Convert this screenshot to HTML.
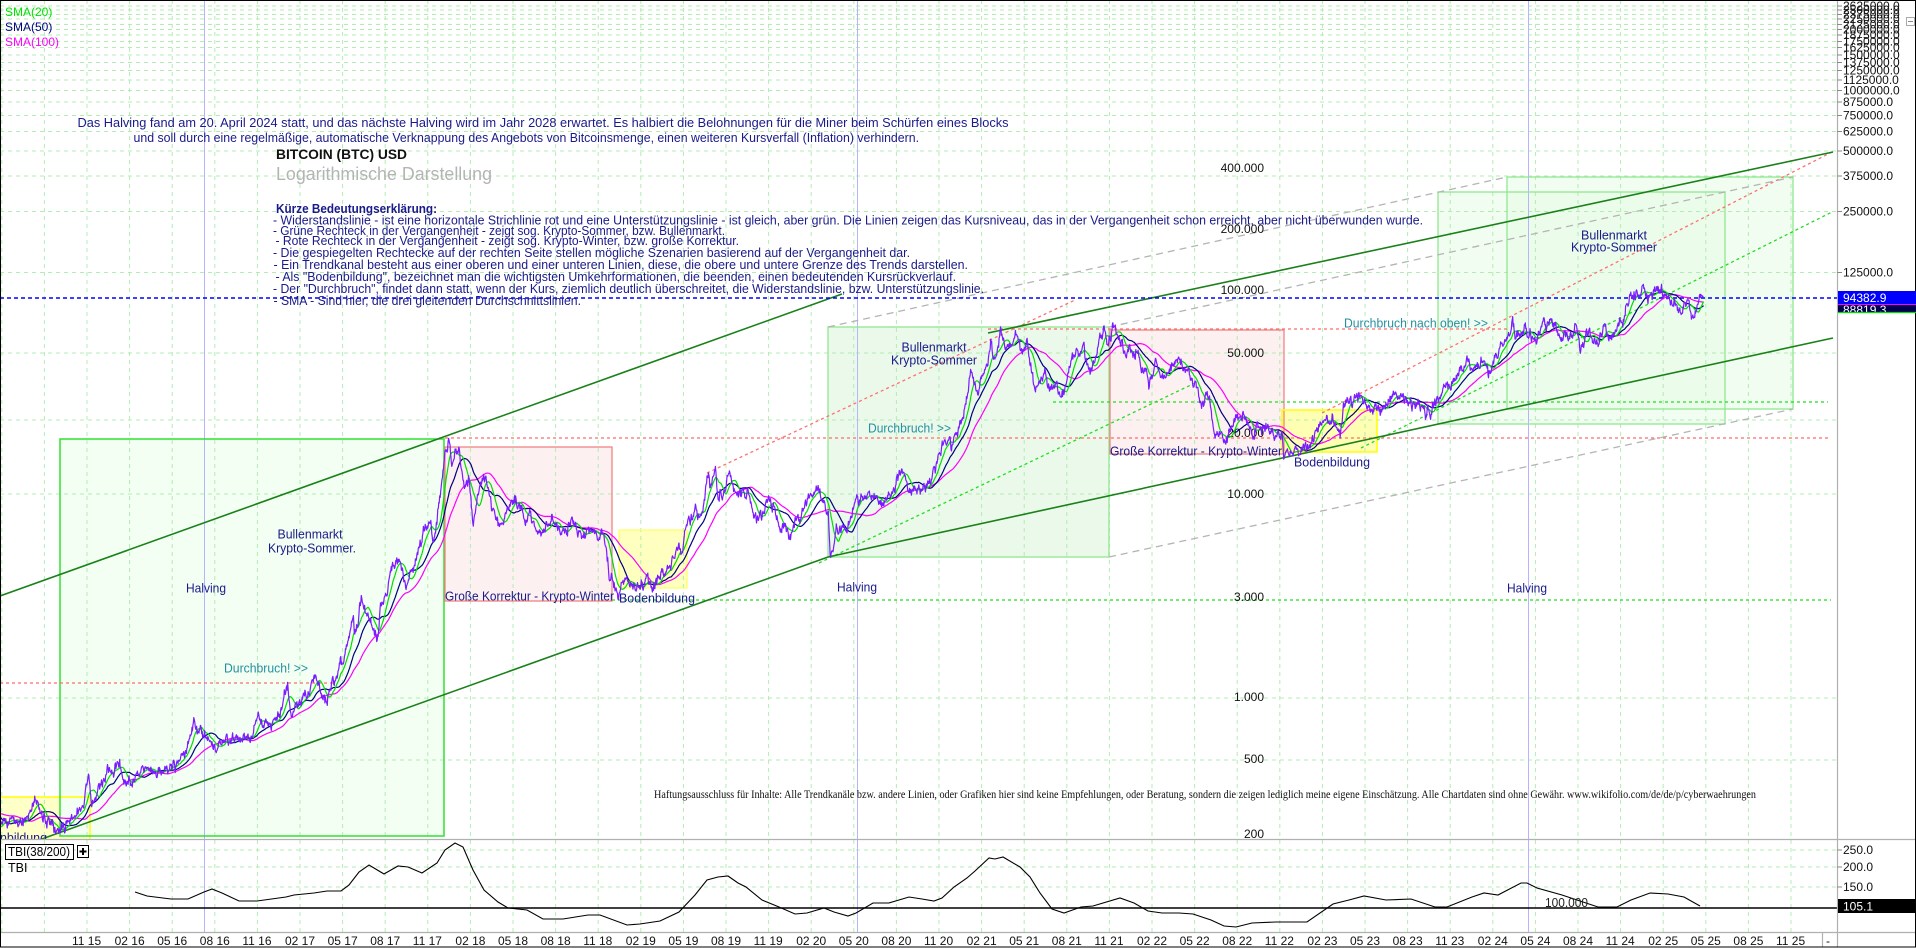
<!DOCTYPE html>
<html><head><meta charset="utf-8">
<style>
html,body{margin:0;padding:0;background:#fff;overflow:hidden;}
svg{display:block;font-family:"Liberation Sans",Arial,sans-serif;}
.nv{fill:#1a1a8a;font-size:13px;}
.tl{fill:#25909f;font-size:13px;}
.ax{fill:#111;font-size:12px;}
.lg{fill:#1a1a8a;font-size:12.5px;}
</style></head>
<body>
<svg width="1916" height="948" viewBox="0 0 1916 948" xmlns="http://www.w3.org/2000/svg">
<defs>
<clipPath id="cm"><rect x="0" y="0" width="1837" height="839"/></clipPath>
<clipPath id="ct"><rect x="0" y="839" width="1837" height="93"/></clipPath>
</defs>
<rect x="0" y="0" width="1916" height="948" fill="#fff"/>

<g clip-path="url(#cm)">
<!-- box fills -->
<rect x="-5" y="797" width="95" height="45" fill="#ffffc8"/>
<rect x="60" y="439" width="384" height="397" fill="#f3fff3"/>
<rect x="445" y="447" width="167" height="154" fill="#fdf0f0"/>
<rect x="619" y="530" width="68" height="58" fill="#ffffc0"/>
<rect x="828" y="327" width="281" height="230" fill="#ebf9eb"/>
<rect x="1110" y="330" width="174" height="124" fill="#fdf0f0"/>
<rect x="1282" y="410" width="95" height="42" fill="#ffffb4"/>
<rect x="1438" y="192" width="287" height="232" fill="#e8fbe8" fill-opacity="0.6"/>
<rect x="1507" y="177" width="286" height="232" fill="#e8fbe8" fill-opacity="0.6"/>
</g>

<!-- grid -->
<g stroke="#b2ecb2" stroke-width="1" stroke-dasharray="4 4" fill="none">
<path d="M1.8 0V932M44.4 0V932M87 0V932M129.6 0V932M172.2 0V932M214.8 0V932M257.4 0V932M300 0V932M342.6 0V932M385.2 0V932M427.8 0V932M470.4 0V932M513 0V932M555.6 0V932M598.2 0V932M640.8 0V932M683.4 0V932M726 0V932M768.6 0V932M811.2 0V932M853.8 0V932M896.4 0V932M939 0V932M981.6 0V932M1024.2 0V932M1066.8 0V932M1109.4 0V932M1152 0V932M1194.6 0V932M1237.2 0V932M1279.8 0V932M1322.4 0V932M1365 0V932M1407.6 0V932M1450.2 0V932M1492.8 0V932M1535.4 0V932M1578 0V932M1620.6 0V932M1663.2 0V932M1705.8 0V932M1748.4 0V932M1791 0V932"/>
<path d="M0 6H1837M0 10H1837M0 14.5H1837M0 19H1837M0 24.5H1837M0 29.5H1837M0 35H1837M0 41.5H1837M0 47.5H1837M0 55H1837M0 62.5H1837M0 70.5H1837M0 80H1837M0 90.5H1837M0 102H1837M0 115.5H1837M0 131.5H1837M0 151H1837M0 176H1837M0 211.5H1837M0 272.5H1837M0 353H1837M0 420H1837M0 494H1837M0 698H1837M0 760H1837M0 850H1837M0 867H1837M0 887H1837"/>
</g>

<!-- halving lines -->
<g stroke="#b4b4ff" stroke-width="1">
<line x1="204.5" y1="0" x2="204.5" y2="932"/>
<line x1="857.5" y1="0" x2="857.5" y2="932"/>
<line x1="1528.5" y1="0" x2="1528.5" y2="932"/>
</g>

<g clip-path="url(#cm)">
<!-- box borders -->
<rect x="-5" y="797" width="95" height="45" fill="none" stroke="#ffff00" stroke-width="1.5"/>
<rect x="60" y="439" width="384" height="397" fill="none" stroke="#2fe02f" stroke-width="1.5"/>
<rect x="445" y="447" width="167" height="154" fill="none" stroke="#f08484" stroke-width="1.3"/>
<rect x="619" y="530" width="68" height="58" fill="none" stroke="#ffff60" stroke-width="1.2"/>
<rect x="828" y="327" width="281" height="230" fill="none" stroke="#90e890" stroke-width="1.3"/>
<rect x="1110" y="330" width="174" height="124" fill="none" stroke="#f08484" stroke-width="1.3"/>
<rect x="1282" y="410" width="95" height="42" fill="none" stroke="#ffff00" stroke-width="1.5"/>
<rect x="1438" y="192" width="287" height="232" fill="none" stroke="#90e890" stroke-width="1.3"/>
<rect x="1507" y="177" width="286" height="232" fill="none" stroke="#90e890" stroke-width="1.3"/>

<!-- horizontal support / resistance -->
<g stroke-width="1.3" stroke-dasharray="3 3" fill="none">
<line x1="0" y1="683" x2="335" y2="683" stroke="#ff6a6a"/>
<line x1="439" y1="438" x2="1831" y2="438" stroke="#ff6a6a"/>
<line x1="988" y1="329" x2="1507" y2="329" stroke="#ff6a6a"/>
<line x1="1053" y1="402" x2="1828" y2="402" stroke="#22dd22"/>
<line x1="612" y1="600" x2="1831" y2="600" stroke="#22dd22"/>
<!-- diagonals -->
<line x1="707" y1="473" x2="1075" y2="300" stroke="#ff7070"/>
<line x1="1322" y1="413" x2="1832" y2="152" stroke="#ff7070"/>
<line x1="819" y1="563" x2="1195" y2="383" stroke="#22dd22"/>
<line x1="1361" y1="448" x2="1832" y2="212" stroke="#22dd22"/>
</g>
<!-- gray dashed mirror channel -->
<g stroke="#b4b4b4" stroke-width="1.3" stroke-dasharray="7 5" fill="none">
<line x1="828" y1="327" x2="1507" y2="177"/>
<line x1="1109" y1="327" x2="1793" y2="177"/>
<line x1="1109" y1="557" x2="1793" y2="409"/>
</g>
<!-- trend channels -->
<g stroke="#1a801a" stroke-width="1.6" fill="none">
<line x1="0" y1="596" x2="842" y2="294"/>
<line x1="0" y1="854" x2="828" y2="557"/>
<line x1="988" y1="333" x2="1833" y2="152"/>
<line x1="828" y1="557" x2="1833" y2="338"/>
</g>

<!-- blue dashed current price -->
<line x1="0" y1="298" x2="1837" y2="298" stroke="#0000ff" stroke-width="1.4" stroke-dasharray="4 3"/>

<!-- chart annotations -->
<text class="nv" x="310" y="538.5" text-anchor="middle" textLength="65" lengthAdjust="spacingAndGlyphs">Bullenmarkt</text>
<text class="nv" x="312" y="552.5" text-anchor="middle" textLength="88" lengthAdjust="spacingAndGlyphs">Krypto-Sommer.</text>
<text class="nv" x="206" y="592.5" text-anchor="middle" textLength="40" lengthAdjust="spacingAndGlyphs">Halving</text>
<text class="tl" x="224" y="672.5" textLength="84" lengthAdjust="spacingAndGlyphs">Durchbruch! &gt;&gt;</text>
<text class="nv" x="445" y="600.5" textLength="169" lengthAdjust="spacingAndGlyphs">Große Korrektur - Krypto-Winter</text>
<text class="nv" x="619" y="602.5" textLength="76" lengthAdjust="spacingAndGlyphs">Bodenbildung</text>
<text class="nv" x="-29" y="842" textLength="76" lengthAdjust="spacingAndGlyphs">Bodenbildung</text>
<text class="nv" x="934" y="351.5" text-anchor="middle" textLength="65" lengthAdjust="spacingAndGlyphs">Bullenmarkt</text>
<text class="nv" x="934" y="364.5" text-anchor="middle" textLength="86" lengthAdjust="spacingAndGlyphs">Krypto-Sommer</text>
<text class="tl" x="868" y="432.5" textLength="83" lengthAdjust="spacingAndGlyphs">Durchbruch! &gt;&gt;</text>
<text class="nv" x="857" y="591.5" text-anchor="middle" textLength="40" lengthAdjust="spacingAndGlyphs">Halving</text>
<text class="nv" x="1110" y="455.5" textLength="172" lengthAdjust="spacingAndGlyphs">Große Korrektur - Krypto-Winter</text>
<text class="nv" x="1332" y="466.5" text-anchor="middle" textLength="76" lengthAdjust="spacingAndGlyphs">Bodenbildung</text>
<text class="tl" x="1344" y="327.5" textLength="144" lengthAdjust="spacingAndGlyphs">Durchbruch nach oben! &gt;&gt;</text>
<text class="nv" x="1614" y="239.5" text-anchor="middle" textLength="66" lengthAdjust="spacingAndGlyphs">Bullenmarkt</text>
<text class="nv" x="1614" y="251.5" text-anchor="middle" textLength="86" lengthAdjust="spacingAndGlyphs">Krypto-Sommer</text>
<text class="nv" x="1527" y="592.5" text-anchor="middle" textLength="40" lengthAdjust="spacingAndGlyphs">Halving</text>

<!-- price labels inside chart -->
<g class="ax" text-anchor="end" fill="#1a1a1a">
<text x="1264" y="172">400.000</text>
<text x="1264" y="233">200.000</text>
<text x="1264" y="294">100.000</text>
<text x="1264" y="357">50.000</text>
<text x="1264" y="437">20.000</text>
<text x="1264" y="498">10.000</text>
<text x="1264" y="601">3.000</text>
<text x="1264" y="701">1.000</text>
<text x="1264" y="763">500</text>
<text x="1264" y="838">200</text>
</g>

<!-- data series -->
<g fill="none" stroke-width="1.2" stroke-linejoin="round">
<path id="s100" stroke="#ff00ff" d=""/>
<path id="s50" stroke="#000080" d=""/>
<path id="s20" stroke="#00dd00" d=""/>
<path id="pr" stroke="#7a1cff" d=""/>
</g>
</g>

<!-- top texts -->
<text x="5" y="16" font-size="12" fill="#00e000">SMA(20)</text>
<text x="5" y="31" font-size="12" fill="#000080">SMA(50)</text>
<text x="5" y="46" font-size="12" fill="#ff00ff">SMA(100)</text>

<text class="lg" x="77.5" y="127" textLength="931" lengthAdjust="spacingAndGlyphs">Das Halving fand am 20. April 2024 statt, und das nächste Halving wird im Jahr 2028 erwartet. Es halbiert die Belohnungen für die Miner beim Schürfen eines Blocks</text>
<text class="lg" x="133.5" y="142" textLength="785.5" lengthAdjust="spacingAndGlyphs">und soll durch eine regelmäßige, automatische Verknappung des Angebots von Bitcoinsmenge, einen weiteren Kursverfall (Inflation) verhindern.</text>
<text x="276" y="159" font-size="14" font-weight="bold" fill="#111" textLength="131" lengthAdjust="spacingAndGlyphs">BITCOIN (BTC) USD</text>
<text x="276" y="180" font-size="18" fill="#b4b4b4" textLength="216" lengthAdjust="spacingAndGlyphs">Logarithmische Darstellung</text>

<text class="lg" x="276" y="213" font-weight="bold" textLength="161" lengthAdjust="spacingAndGlyphs">Kürze Bedeutungserklärung:</text>
<text class="lg" x="273" y="224.5" textLength="1150" lengthAdjust="spacingAndGlyphs">- Widerstandslinie - ist eine horizontale Strichlinie rot und eine Unterstützungslinie - ist gleich, aber grün. Die Linien zeigen das Kursniveau, das in der Vergangenheit schon erreicht, aber nicht überwunden wurde.</text>
<text class="lg" x="273" y="235" textLength="452" lengthAdjust="spacingAndGlyphs">- Grüne Rechteck in der Vergangenheit - zeigt sog. Krypto-Sommer, bzw. Bullenmarkt.</text>
<text class="lg" x="275.5" y="245" textLength="463.5" lengthAdjust="spacingAndGlyphs">- Rote Rechteck in der Vergangenheit - zeigt sog. Krypto-Winter, bzw. große Korrektur.</text>
<text class="lg" x="273" y="257" textLength="637" lengthAdjust="spacingAndGlyphs">- Die gespiegelten Rechtecke auf der rechten Seite stellen mögliche Szenarien basierend auf der Vergangenheit dar.</text>
<text class="lg" x="273.5" y="269" textLength="694.5" lengthAdjust="spacingAndGlyphs">- Ein Trendkanal besteht aus einer oberen und einer unteren Linien, diese, die obere und untere Grenze des Trends darstellen.</text>
<text class="lg" x="275.5" y="281" textLength="680.5" lengthAdjust="spacingAndGlyphs">- Als "Bodenbildung", bezeichnet man die wichtigsten Umkehrformationen, die beenden, einen bedeutenden Kursrückverlauf.</text>
<text class="lg" x="273" y="293" textLength="711" lengthAdjust="spacingAndGlyphs">- Der "Durchbruch", findet dann statt, wenn der Kurs, ziemlich deutlich überschreitet, die Widerstandslinie, bzw. Unterstützungslinie.</text>
<text class="lg" x="273.5" y="305" textLength="307.5" lengthAdjust="spacingAndGlyphs">- SMA - Sind hier, die drei gleitenden Durchschnittslinien.</text>

<text x="654" y="798" font-family="Liberation Serif, serif" font-size="11.5" fill="#111" textLength="1102" lengthAdjust="spacingAndGlyphs">Haftungsausschluss für Inhalte: Alle Trendkanäle bzw. andere Linien, oder Grafiken hier sind keine Empfehlungen, oder Beratung, sondern die zeigen lediglich meine eigene Einschätzung. Alle Chartdaten sind ohne Gewähr.  www.wikifolio.com/de/de/p/cyberwaehrungen</text>

<!-- TBI panel -->
<g clip-path="url(#ct)">
<line x1="0" y1="908" x2="1837" y2="908" stroke="#000" stroke-width="1.5"/>
<polyline fill="none" stroke="#000" stroke-width="1.1" points="135,892 147,896 171,899 188,899 204,892 212,889 222,893 239,901 257,901 286,897 294,895 314,893 327,891 341,891 349,885 359,872 369,865 384,874 398,866 408,867 422,873 437,863 445,850 455,843 463,847 473,870 484,890 498,902 508,908 527,910 543,919 563,919 588,915 600,915 627,925 640,924 660,921 679,912 695,895 707,880 718,877 728,876 738,883 746,887 762,900 779,907 795,914 807,913 824,908 834,912 848,916 856,913 873,903 889,903 909,897 922,899 934,901 942,898 954,887 967,878 975,871 989,858 995,859 1003,857 1020,867 1030,877 1040,893 1052,909 1064,913 1081,907 1093,906 1120,898 1134,903 1148,911 1162,913 1179,913 1193,914 1211,920 1224,926 1236,927 1252,923 1276,922 1307,922 1333,904 1349,900 1364,896 1386,900 1411,899 1435,907 1447,907 1472,897 1484,893 1498,895 1521,883 1527,883 1537,888 1562,895 1586,903 1598,907 1617,907 1631,900 1650,893 1668,894 1684,897 1700,906"/>
<text x="1545" y="907" font-size="12.5" fill="#222" textLength="43" lengthAdjust="spacingAndGlyphs">100.000</text>
</g>
<rect x="5.5" y="844.5" width="68" height="15" fill="#fff" stroke="#000"/>
<text x="8" y="856" font-size="12.5" fill="#000" textLength="62" lengthAdjust="spacingAndGlyphs">TBI(38/200)</text>
<rect x="77.5" y="845.5" width="11" height="12" fill="#fff" stroke="#000"/>
<path d="M79.5 851.5H86.5M83 848V855" stroke="#000" stroke-width="2"/>
<text x="8" y="872" font-size="12.5" fill="#000">TBI</text>

<!-- panel borders -->
<g stroke="#b0b0b0" stroke-width="1.2">
<line x1="0" y1="839.5" x2="1916" y2="839.5"/>
<line x1="0" y1="932.5" x2="1916" y2="932.5"/>
<line x1="1837.5" y1="0" x2="1837.5" y2="947"/>
<line x1="1822.5" y1="933" x2="1822.5" y2="947"/>
</g>
<rect x="0.5" y="0.5" width="1915" height="946.5" fill="none" stroke="#000" stroke-width="1"/>

<!-- right axis -->
<g stroke="#888" stroke-width="1">
<path d="M1837 6H1842M1837 10H1842M1837 14.5H1842M1837 19H1842M1837 24.5H1842M1837 29.5H1842M1837 35H1842M1837 41.5H1842M1837 47.5H1842M1837 55H1842M1837 62.5H1842M1837 70.5H1842M1837 80H1842M1837 90.5H1842M1837 102H1842M1837 115.5H1842M1837 131.5H1842M1837 151H1842M1837 176H1842M1837 211.5H1842M1837 272.5H1842M1837 850H1842M1837 867H1842M1837 887H1842"/>
</g>
<g class="ax" fill="#000">
<text x="1843" y="10">2625000.0</text>
<text x="1843" y="14">2500000.0</text>
<text x="1843" y="18.5">2375000.0</text>
<text x="1843" y="23">2250000.0</text>
<text x="1843" y="28.5">2125000.0</text>
<text x="1843" y="33.5">2000000.0</text>
<text x="1843" y="39">1875000.0</text>
<text x="1843" y="45.5">1750000.0</text>
<text x="1843" y="51.5">1625000.0</text>
<text x="1843" y="59">1500000.0</text>
<text x="1843" y="66.5">1375000.0</text>
<text x="1843" y="74.5">1250000.0</text>
<text x="1843" y="84">1125000.0</text>
<text x="1843" y="94.5">1000000.0</text>
<text x="1843" y="106">875000.0</text>
<text x="1843" y="119.5">750000.0</text>
<text x="1843" y="135.5">625000.0</text>
<text x="1843" y="155">500000.0</text>
<text x="1843" y="180">375000.0</text>
<text x="1843" y="215.5">250000.0</text>
<text x="1843" y="276.5">125000.0</text>
<text x="1843" y="854">250.0</text>
<text x="1843" y="871">200.0</text>
<text x="1843" y="891">150.0</text>
</g>
<rect x="1838" y="304" width="78" height="8" fill="#000050"/>
<text x="1843" y="314" font-size="12" fill="#fff">88819.3</text>
<rect x="1838" y="291" width="78" height="13" fill="#0000ff"/>
<text x="1843" y="302" font-size="12" fill="#fff">94382.9</text>
<line x1="1838" y1="304.5" x2="1916" y2="304.5" stroke="#ff00ff" stroke-width="1"/>
<line x1="1838" y1="312.5" x2="1916" y2="312.5" stroke="#00dd00" stroke-width="1.2"/>
<rect x="1838" y="899" width="78" height="14" fill="#000"/>
<text x="1843" y="910.5" font-size="12" fill="#fff">105.1</text>
<rect x="1906.5" y="17.5" width="8" height="8" fill="#fff" stroke="#aaa"/>
<line x1="1908" y1="21.5" x2="1913" y2="21.5" stroke="#888"/>

<!-- x axis labels -->
<g class="ax" fill="#000">
<text x="72" y="945">11 15</text>
<text x="114.6" y="945">02 16</text>
<text x="157.2" y="945">05 16</text>
<text x="199.8" y="945">08 16</text>
<text x="242.4" y="945">11 16</text>
<text x="285" y="945">02 17</text>
<text x="327.6" y="945">05 17</text>
<text x="370.2" y="945">08 17</text>
<text x="412.8" y="945">11 17</text>
<text x="455.4" y="945">02 18</text>
<text x="498" y="945">05 18</text>
<text x="540.6" y="945">08 18</text>
<text x="583.2" y="945">11 18</text>
<text x="625.8" y="945">02 19</text>
<text x="668.4" y="945">05 19</text>
<text x="711" y="945">08 19</text>
<text x="753.6" y="945">11 19</text>
<text x="796.2" y="945">02 20</text>
<text x="838.8" y="945">05 20</text>
<text x="881.4" y="945">08 20</text>
<text x="924" y="945">11 20</text>
<text x="966.6" y="945">02 21</text>
<text x="1009.2" y="945">05 21</text>
<text x="1051.8" y="945">08 21</text>
<text x="1094.4" y="945">11 21</text>
<text x="1137" y="945">02 22</text>
<text x="1179.6" y="945">05 22</text>
<text x="1222.2" y="945">08 22</text>
<text x="1264.8" y="945">11 22</text>
<text x="1307.4" y="945">02 23</text>
<text x="1350" y="945">05 23</text>
<text x="1392.6" y="945">08 23</text>
<text x="1435.2" y="945">11 23</text>
<text x="1477.8" y="945">02 24</text>
<text x="1520.4" y="945">05 24</text>
<text x="1563" y="945">08 24</text>
<text x="1605.6" y="945">11 24</text>
<text x="1648.2" y="945">02 25</text>
<text x="1690.8" y="945">05 25</text>
<text x="1733.4" y="945">08 25</text>
<text x="1776" y="945">11 25</text>
<text x="1826" y="945">-</text>
</g>
</svg>

<script>
(function(){
var raw="2015-01-14 175|2015-01-26 270|2015-02-14 240|2015-03-10 290|2015-03-30 245|2015-04-14 220|2015-04-25 228|2015-05-15 237|2015-06-10 228|2015-06-30 262|2015-07-12 310|2015-07-20 275|2015-08-18 225|2015-08-25 210|2015-09-15 230|2015-10-05 238|2015-10-25 285|2015-11-04 400|2015-11-11 310|2015-11-20 325|2015-12-01 360|2015-12-15 450|2015-12-25 420|2016-01-10 450|2016-01-16 380|2016-02-01 370|2016-02-25 425|2016-03-15 415|2016-04-15 430|2016-05-10 455|2016-05-31 530|2016-06-17 750|2016-06-25 620|2016-07-10 650|2016-08-02 540|2016-08-20 580|2016-09-15 605|2016-10-15 640|2016-11-01 730|2016-11-20 740|2016-12-15 780|2017-01-04 1130|2017-01-12 780|2017-01-25 920|2017-02-15 1000|2017-03-02 1270|2017-03-25 940|2017-04-15 1180|2017-05-05 1550|2017-05-25 2400|2017-05-28 2000|2017-06-11 2900|2017-06-25 2550|2017-07-15 1900|2017-07-22 2800|2017-08-05 3200|2017-08-16 4300|2017-09-01 4900|2017-09-14 3200|2017-09-30 4300|2017-10-20 6000|2017-11-07 7400|2017-11-12 5900|2017-11-28 9800|2017-12-07 16000|2017-12-11 17000|2017-12-16 18500|2017-12-22 13800|2017-12-28 15000|2018-01-06 16500|2018-01-17 11000|2018-01-28 11500|2018-02-06 6900|2018-02-20 11000|2018-03-05 11400|2018-03-18 8200|2018-04-06 6700|2018-04-24 9500|2018-05-05 9800|2018-05-28 7200|2018-06-10 7500|2018-06-29 5900|2018-07-24 8200|2018-08-14 6200|2018-09-04 7300|2018-09-20 6400|2018-10-15 6600|2018-11-13 6300|2018-11-25 3900|2018-12-15 3200|2018-12-24 4000|2019-01-10 3600|2019-02-07 3400|2019-03-01 3800|2019-03-30 4100|2019-04-10 5200|2019-05-01 5300|2019-05-14 8000|2019-05-17 7300|2019-05-30 8700|2019-06-10 7600|2019-06-26 12900|2019-06-28 11000|2019-07-10 12500|2019-07-16 9400|2019-08-06 11800|2019-08-28 9700|2019-09-18 10200|2019-09-26 8000|2019-10-22 7500|2019-10-26 9500|2019-11-10 8800|2019-11-25 7000|2019-12-17 6600|2020-01-01 7200|2020-01-19 8900|2020-02-13 10300|2020-02-28 8700|2020-03-08 8000|2020-03-12 4900|2020-03-16 5000|2020-03-25 6700|2020-04-15 6600|2020-04-30 8700|2020-05-08 9900|2020-05-12 8600|2020-06-01 10200|2020-06-27 9000|2020-07-20 9200|2020-08-02 11800|2020-08-17 12300|2020-09-05 10200|2020-10-01 10700|2020-10-21 12800|2020-11-05 15500|2020-11-24 19100|2020-11-26 17000|2020-12-16 21300|2020-12-31 29000|2021-01-08 40500|2021-01-22 30800|2021-02-10 45000|2021-02-21 57500|2021-02-28 45000|2021-03-13 61000|2021-03-25 51000|2021-04-13 63500|2021-04-25 49000|2021-05-08 58500|2021-05-19 37000|2021-05-23 34500|2021-06-15 40000|2021-06-22 32500|2021-07-08 33000|2021-07-20 29800|2021-08-14 47800|2021-09-06 52700|2021-09-21 40700|2021-10-20 66000|2021-10-28 58000|2021-11-09 67500|2021-11-28 57000|2021-12-04 49000|2021-12-27 50800|2022-01-10 41800|2022-01-24 36000|2022-02-10 44000|2022-02-24 37000|2022-03-28 47000|2022-04-10 42000|2022-04-30 38000|2022-05-12 29000|2022-05-31 31800|2022-06-18 19000|2022-07-13 19300|2022-07-30 23800|2022-08-14 24400|2022-09-06 18800|2022-09-13 22400|2022-10-20 19100|2022-11-05 21300|2022-11-09 15900|2022-11-21 15800|2022-12-14 17800|2022-12-30 16500|2023-01-14 20900|2023-02-15 24300|2023-03-10 20200|2023-03-17 27400|2023-04-14 30400|2023-05-10 27600|2023-06-15 25100|2023-06-23 30700|2023-07-13 31400|2023-08-17 26600|2023-09-11 25100|2023-10-01 28000|2023-10-24 34500|2023-11-15 37800|2023-12-08 44200|2023-12-17 41400|2024-01-11 46600|2024-01-22 39500|2024-02-14 51800|2024-03-05 63800|2024-03-14 73100|2024-03-19 62000|2024-04-08 71600|2024-04-17 61300|2024-05-01 57000|2024-05-21 71400|2024-06-07 71000|2024-07-05 56600|2024-07-29 68200|2024-08-05 54000|2024-08-24 64200|2024-09-06 53900|2024-09-27 65800|2024-10-10 60300|2024-10-29 72700|2024-11-05 67800|2024-11-13 90000|2024-11-22 98900|2024-11-26 91900|2024-12-05 98700|2024-12-17 106000|2024-12-30 92600|2025-01-20 102000|2025-01-27 101000|2025-02-03 97000|2025-02-25 86000|2025-03-10 78500|2025-03-25 87500|2025-04-08 76300|2025-04-22 93500|2025-04-27 94382.9";
var L=raw.split("|").map(function(s){var a=s.split(" ");return [Math.round(Date.parse(a[0]+"T00:00:00Z")/864e5),Math.log(parseFloat(a[1]))];});
var d0=Date.parse("2015-11-01T00:00:00Z")/864e5;
function X(d){return 87+(d-d0)/30.436875*14.2;}
function Y(p){return 151-87.6*Math.log(p/500000);}
var s=987654321;
function rnd(){s^=s<<13;s^=s>>>17;s^=s<<5;return (s>>>0)/4294967296;}
var start=L[0][0],end=L[L.length-1][0];
var P=[],D=[],e=0,k=0;
for(var d=start;d<=end;d++){
 while(k<L.length-2&&L[k+1][0]<=d)k++;
 var da=L[k][0],la=L[k][1],db=L[k+1][0],lb=L[k+1][1];
 var t=(db===da)?0:Math.min(1,Math.max(0,(d-da)/(db-da)));
 var base=la+(lb-la)*t;
 var g=(rnd()+rnd()+rnd()-1.5)*2;
 e=0.72*e+0.03*g;
 var taper=Math.min(1,(end-d)/8);
 P.push(Math.exp(base+e*taper));D.push(d);
}
function sma(n){var r=[],sum=0;for(var i=0;i<P.length;i++){sum+=P[i];if(i>=n)sum-=P[i-n];r.push(i>=n-1?sum/n:null);}return r;}
function path(arr){var out="",st=false;for(var i=0;i<arr.length;i++){if(arr[i]==null)continue;var x=X(D[i]);if(x<-3)continue;out+=(st?"L":"M")+x.toFixed(1)+" "+Y(arr[i]).toFixed(1);st=true;}return out;}
document.getElementById("pr").setAttribute("d",path(P));
document.getElementById("s20").setAttribute("d",path(sma(20)));
document.getElementById("s50").setAttribute("d",path(sma(50)));
document.getElementById("s100").setAttribute("d",path(sma(100)));
})();
</script>
</body></html>
